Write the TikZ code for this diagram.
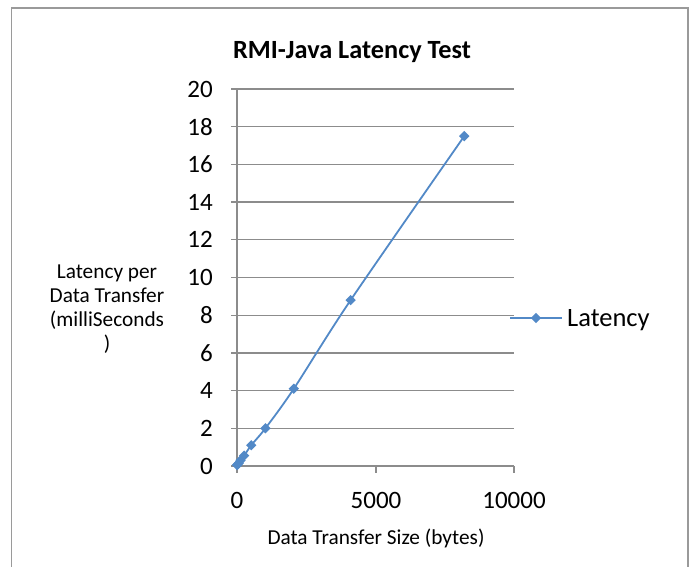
\documentclass[tikz,border=0pt]{standalone}
\usepackage{fontspec}
\setmainfont{Carlito}
\usetikzlibrary{shapes.geometric}
\definecolor{ser}{HTML}{5289C7}
\definecolor{grd}{HTML}{8C8C8C}
\definecolor{frm}{HTML}{9A9A9A}
\tikzset{
  gridline/.style={grd, line width=1.3pt},
  framebox/.style={frm, line width=1.8pt},
  serline/.style={ser, line width=1.8pt},
  mk/.style={diamond, fill=ser, draw=none, inner sep=0pt, minimum size=10.5pt},
  ticklab/.style={font=\fontsize{25}{30}\selectfont, inner sep=0pt},
  axlab/.style={font=\fontsize{21.3}{24}\selectfont, inner sep=0pt, align=center},
}
\begin{document}
\begin{tikzpicture}[x=1pt,y=-1pt]
\useasboundingbox (0,0) rectangle (695,566);
\draw[framebox] (11.5,570) -- (11.5,8) -- (688,8) -- (688,570);
% title
\node[font=\bfseries\fontsize{26.3}{30}\selectfont, inner sep=0pt] (title) at (352,52) {RMI-Java Latency Test};
% gridlines and y labels
\foreach \v in {0,2,...,20}{
  \pgfmathsetmacro\yy{466-\v*18.85}
  \draw[gridline] (231,\yy) -- (514,\yy);
  \node[ticklab, anchor=east] (yl\v) at (213,\yy) {\v};
}
% y axis
\draw[gridline] (237,89) -- (237,466);
% x ticks
\foreach \xx/\lab in {237/0,376/5000,514/10000}{
  \draw[gridline] (\xx,466) -- (\xx,473);
  \node[ticklab] (xl\lab) at (\xx,500) {\lab};
}
% axis titles
\node[axlab] (ytitle) at (107,309) {Latency per\\Data Transfer\\(milliSeconds\\)};
\node[axlab] (xtitle) at (376,538) {Data Transfer Size (bytes)};
% data
\begin{scope}[shift={(237,466)}, x=0.02774pt, y=18.85pt]
  \draw[serline] plot[smooth, tension=0.5] coordinates {(1,0.05) (16,0.07) (64,0.15) (128,0.3) (256,0.55) (512,1.1) (1024,2.0) (2048,4.1) (4096,8.8) (8192,17.5)};
  \foreach \px/\py [count=\i] in {1/0.05,16/0.07,64/0.15,128/0.3,256/0.55,512/1.1,1024/2.0,2048/4.1,4096/8.8,8192/17.5}{
    \node[mk] (p\i) at (\px,\py) {};
  }
\end{scope}
% legend
\coordinate (la) at (510,318);
\coordinate (lb) at (562,318);
\draw[serline] (la) -- (lb);
\node[mk] (lm) at (536,318) {};
\node[font=\fontsize{26.5}{30}\selectfont, inner sep=0pt, anchor=west] (leg) at (567,320) {Latency};
\end{tikzpicture}
\end{document}
